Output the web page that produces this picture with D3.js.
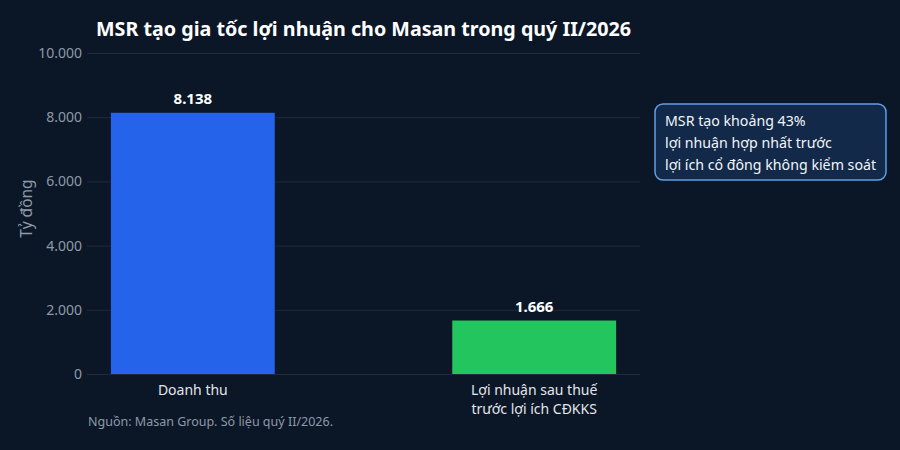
<!DOCTYPE html>
<html>
<head>
<meta charset="utf-8">
<script src="https://cdn.jsdelivr.net/npm/d3@7"></script>
<style>
  body { margin: 0; background: #0b1727; }
  svg { display: block; font-family: "Noto Sans", "Open Sans", sans-serif; }
</style>
</head>
<body>
<script>
var categories = ["Doanh thu", "Lợi nhuận sau thuế\ntrước lợi ích CĐKKS"];
var values = [8138, 1666];
var barColors = ["#2563eb", "#22c55e"];
var yTicks = [0, 2000, 4000, 6000, 8000, 10000];
var noteLines = ["MSR tạo khoảng 43%", "lợi nhuận hợp nhất trước", "lợi ích cổ đông không kiểm soát"];

var width = 900, height = 450;
var margin = {top: 53, right: 260, bottom: 76, left: 87};
var innerW = width - margin.left - margin.right,
    innerH = height - margin.top - margin.bottom;

var fmt = function(v) { return d3.format(",")(v).replace(/,/g, "."); };

var svg = d3.select("body").append("svg")
    .attr("width", width)
    .attr("height", height);

svg.append("rect")
    .attr("width", width)
    .attr("height", height)
    .attr("fill", "#0b1727");

var g = svg.append("g")
    .attr("transform", "translate(" + margin.left + "," + margin.top + ")");

var x = d3.scaleBand()
    .domain(categories)
    .range([0, innerW])
    .paddingInner(0.52)
    .paddingOuter(0.07);

var y = d3.scaleLinear()
    .domain([0, 10000])
    .range([innerH, 0]);

// gridlines + y labels
var yAxis = g.append("g")
    .attr("class", "axis axis--y")
    .call(d3.axisLeft(y).tickValues(yTicks).tickSize(-innerW).tickFormat(fmt).tickPadding(5));
yAxis.select(".domain").remove();
yAxis.selectAll(".tick line").attr("stroke", "#1e2b3e").attr("stroke-width", 1);
yAxis.selectAll(".tick text")
    .attr("fill", "#8e99a8")
    .style("font-size", "14px")
    .style("font-family", "Noto Sans");

g.append("text")
    .attr("transform", "rotate(-90)")
    .attr("x", -innerH / 2 + 5)
    .attr("y", -60)
    .attr("dy", "0.35em")
    .attr("text-anchor", "middle")
    .attr("fill", "#8e99a8")
    .style("font-size", "15.5px")
    .text("Tỷ đồng");

// bars
g.selectAll(".bar")
    .data(values)
    .enter()
    .append("rect")
    .attr("class", "bar")
    .attr("x", function(d, i) { return x(categories[i]); })
    .attr("y", function(d) { return y(d); })
    .attr("width", x.bandwidth())
    .attr("height", function(d) { return innerH - y(d); })
    .attr("fill", function(d, i) { return barColors[i]; });

g.selectAll(".val")
    .data(values)
    .enter()
    .append("text")
    .attr("class", "val")
    .attr("x", function(d, i) { return x(categories[i]) + x.bandwidth() / 2; })
    .attr("y", function(d) { return y(d) - 9; })
    .attr("text-anchor", "middle")
    .attr("fill", "#ffffff")
    .style("font-size", "15px")
    .style("font-weight", "bold")
    .text(fmt);

// x labels
var xl = g.selectAll(".xlab")
    .data(categories)
    .enter()
    .append("text")
    .attr("class", "xlab")
    .attr("x", function(d) { return x(d) + x.bandwidth() / 2; })
    .attr("y", innerH + 21)
    .attr("text-anchor", "middle")
    .attr("fill", "#e2e6ec")
    .style("font-size", "14px");
xl.each(function(d) {
    var t = d3.select(this);
    d.split("\n").forEach(function(line, k) {
        t.append("tspan")
            .attr("x", t.attr("x"))
            .attr("dy", k === 0 ? 0 : 19)
            .text(line);
    });
});

// title
svg.append("text")
    .attr("x", margin.left + innerW / 2)
    .attr("y", 36)
    .attr("text-anchor", "middle")
    .attr("fill", "#ffffff")
    .style("font-size", "19.7px")
    .style("font-weight", "bold")
    .text("MSR tạo gia tốc lợi nhuận cho Masan trong quý II/2026");

// source
svg.append("text")
    .attr("x", 88)
    .attr("y", 426)
    .attr("fill", "#8e99a8")
    .style("font-size", "12.5px")
    .text("Nguồn: Masan Group. Số liệu quý II/2026.");

// note box
var note = svg.append("g").attr("transform", "translate(655,104)");
note.append("rect")
    .attr("width", 231)
    .attr("height", 76)
    .attr("rx", 8)
    .attr("fill", "#13294a")
    .attr("stroke", "#5fa0e6")
    .attr("stroke-width", 1.5);
note.selectAll("text")
    .data(noteLines)
    .enter()
    .append("text")
    .attr("x", 10)
    .attr("y", function(d, i) { return 22 + i * 22; })
    .attr("fill", "#f1f5f9")
    .style("font-size", "14.2px")
    .text(function(d) { return d; });
</script>
</body>
</html>
